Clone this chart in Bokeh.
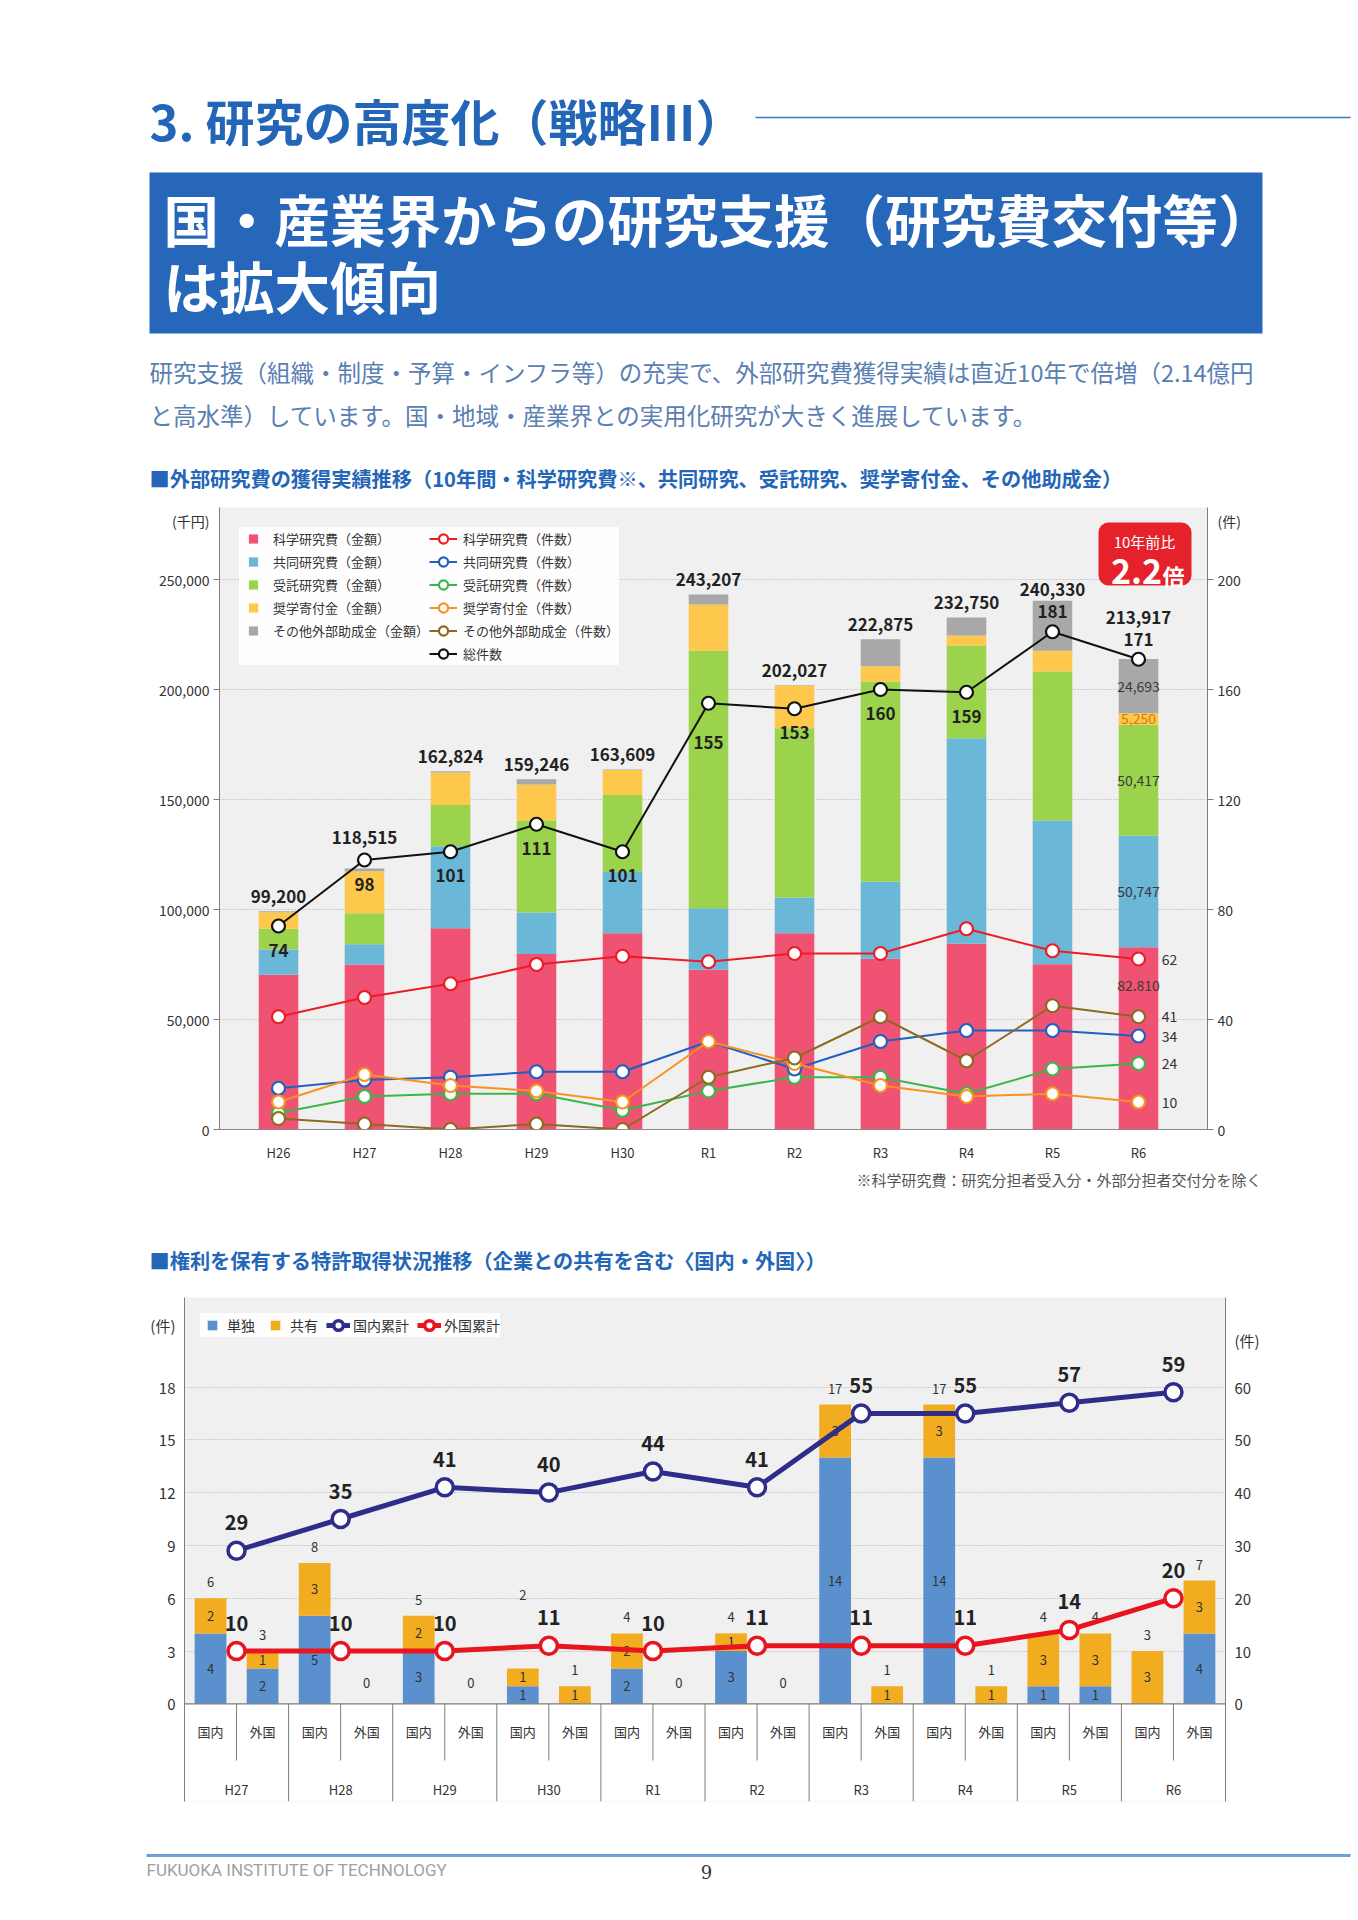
from bokeh.plotting import figure
from bokeh.models import (ColumnDataSource, Range1d, LinearAxis, FixedTicker,
                          NumeralTickFormatter, Label, BoxAnnotation, Span,
                          Legend, LegendItem)
from bokeh.core.properties import value
from bokeh.embed import file_html
from bokeh.resources import INLINE

JP = "Noto Sans CJK JP"
PAGE_W = 1358
HEAD_BLUE = "#2366b8"
TEXT_BLUE = "#5a80b2"
INK = "#333333"

# ---- 外部研究費 金額 (千円) ----
fiscal_years = ["H26", "H27", "H28", "H29", "H30", "R1", "R2", "R3", "R4", "R5", "R6"]
kaken_amount = [70300, 75000, 91500, 79800, 89200, 72600, 89200, 77600, 84400, 75100, 82810]
joint_amount = [11500, 9200, 37300, 18800, 27900, 28000, 16200, 35000, 93400, 65300, 50747]
contract_amount = [9500, 14100, 18700, 41800, 35000, 117000, 77000, 91000, 42200, 67800, 50417]
donation_amount = [7500, 19100, 14800, 16400, 11300, 21000, 19400, 7000, 4500, 9400, 5250]
other_amount = [400, 1215, 524, 2446, 209, 4607, 227, 12275, 8250, 22730, 24693]
total_amount = [99200, 118515, 162824, 159246, 163609, 243207, 202027, 222875, 232750, 240330, 213917]

# ---- 外部研究費 件数 ----
kaken_count = [41, 48, 53, 60, 63, 61, 64, 64, 73, 65, 62]
joint_count = [15, 18, 19, 21, 21, 32, 22, 32, 36, 36, 34]
contract_count = [6, 12, 13, 13, 7, 14, 19, 19, 13, 22, 24]
donation_count = [10, 20, 16, 14, 10, 32, 24, 16, 12, 13, 10]
other_count = [4, 2, 0, 2, 0, 19, 26, 41, 25, 45, 41]
total_count = [74, 98, 101, 111, 101, 155, 153, 160, 159, 181, 171]

# ---- 特許取得 (件) ----
patent_years = ["H27", "H28", "H29", "H30", "R1", "R2", "R3", "R4", "R5", "R6"]
domestic_sole = [4, 5, 3, 1, 2, 3, 14, 14, 1, 0]
domestic_joint = [2, 3, 2, 1, 2, 1, 3, 3, 3, 3]
foreign_sole = [2, 0, 0, 0, 0, 0, 0, 0, 1, 4]
foreign_joint = [1, 0, 0, 1, 0, 0, 1, 1, 3, 3]
domestic_cumulative = [29, 35, 41, 40, 44, 41, 55, 55, 57, 59]
foreign_cumulative = [10, 10, 10, 11, 10, 11, 11, 11, 14, 20]


def text_page(height, top):
    """A blank strip whose data coordinates are page pixels (y grows downward)."""
    f = figure(width=PAGE_W, height=height, output_backend="svg", toolbar_location=None,
               x_range=Range1d(0, PAGE_W), y_range=Range1d(top + height, top),
               min_border=0, x_axis_location=None, y_axis_location=None,
               outline_line_color=None, background_fill_color="white")
    f.grid.visible = False
    return f


def write(fig, xs, ys, texts, size, color, bold=False, align="center", font=JP, **kw):
    fig.text(x=xs, y=ys, text=texts, text_font=value(font), text_font_size=f"{size}px",
             text_color=color, text_font_style="bold" if bold else "normal",
             text_align=align, text_baseline="middle", **kw)


def style_axis(ax, size="14px", tick_out=6, standoff=4):
    ax.axis_line_color = "#7d7d7d"
    ax.major_tick_line_color = "#7d7d7d"
    ax.major_tick_out = tick_out
    ax.major_tick_in = 0
    ax.minor_tick_line_color = None
    ax.major_label_text_font = JP
    ax.major_label_text_font_size = size
    ax.major_label_text_color = INK
    ax.major_label_standoff = standoff


def unit_ticks(ax, ticks, unit_at, unit_text, fmt=None, tick_out=6):
    """Numbered ticks with short tick marks, plus an unmarked unit caption near the top."""
    ax.ticker = FixedTicker(ticks=ticks + [unit_at], minor_ticks=ticks)
    overrides = {unit_at: unit_text}
    if fmt:
        overrides.update({t: fmt(t) for t in ticks})
    ax.major_label_overrides = overrides
    ax.major_tick_out = 0
    ax.minor_tick_out = tick_out
    ax.minor_tick_in = 0
    ax.minor_tick_line_color = "#7d7d7d" if tick_out else None


def square_swatch(fig, color):
    """Hidden square marker used only as a legend swatch."""
    r = fig.scatter(x=[0], y=[0], marker="square", size=12, fill_color=color, line_color=None)
    r.visible = False
    return r


# ================= header =================
head = text_page(500, 0)
write(head, [149], [119], ["3. 研究の高度化（戦略Ⅲ）"], 49, HEAD_BLUE, bold=True, align="left")
head.segment(x0=[755], y0=[117], x1=[1350], y1=[117], line_color="#3d78c2", line_width=1.5)
head.quad(left=[149], right=[1262], top=[172], bottom=[333], fill_color="#2767b9", line_color=None)
write(head, [163], [217], ["国・産業界からの研究支援（研究費交付等）"], 55.5, "white", bold=True, align="left")
write(head, [163], [284], ["は拡大傾向"], 55.5, "white", bold=True, align="left")
write(head, [149], [371], ["研究支援（組織・制度・予算・インフラ等）の充実で、外部研究費獲得実績は直近10年で倍増（2.14億円"],
      23.5, TEXT_BLUE, align="left")
write(head, [149], [414], ["と高水準）しています。国・地域・産業界との実用化研究が大きく進展しています。"],
      23.5, TEXT_BLUE, align="left")
write(head, [149], [478], ["■外部研究費の獲得実績推移（10年間・科学研究費※、共同研究、受託研究、奨学寄付金、その他助成金）"],
      20.2, HEAD_BLUE, bold=True, align="left")

# ================= chart 1: funding =================
C1_LEFT, C1_RIGHT, C1_TOP, C1_BOTTOM = 219, 1207, 507, 1129   # page pixels of the plot frame
C1_X0, C1_PITCH = 278, 86                                       # first category centre, spacing
AMT_PER_PX = 50000 / 110
Y1_MAX = (C1_BOTTOM - C1_TOP) * AMT_PER_PX
CNT_SCALE = 1250                                                # 千円 per 件 on the twin axis


def c1x(px):
    return (px - C1_X0) / C1_PITCH


def c1y(py):
    return (C1_BOTTOM - py) * AMT_PER_PX


p1 = figure(width=PAGE_W, height=665, output_backend="svg", toolbar_location=None,
            x_range=Range1d(c1x(C1_LEFT), c1x(C1_RIGHT)), y_range=Range1d(0, Y1_MAX),
            min_border_left=C1_LEFT, min_border_right=PAGE_W - C1_RIGHT,
            min_border_top=C1_TOP - 500, min_border_bottom=1165 - C1_BOTTOM,
            background_fill_color="#f0f0f0", border_fill_color="white", outline_line_color=None)
p1.extra_y_ranges = {"cnt": Range1d(0, Y1_MAX / CNT_SCALE)}

amount_ticks = [0, 50000, 100000, 150000, 200000, 250000]
count_ticks = [0, 40, 80, 120, 160, 200]
unit_y = 276800   # caption row just under the frame top

yl = p1.yaxis[0]
style_axis(yl, "14px", 0, 4)
unit_ticks(yl, amount_ticks, unit_y, "(千円)", fmt=lambda t: f"{t:,}")
yr = LinearAxis(y_range_name="cnt")
style_axis(yr, "14px", 0, 4)
unit_ticks(yr, count_ticks, unit_y / CNT_SCALE, "(件)", fmt=lambda t: str(t))
p1.add_layout(yr, "right")

xa = p1.xaxis[0]
xa.ticker = FixedTicker(ticks=list(range(len(fiscal_years))))
xa.major_label_overrides = {i: y for i, y in enumerate(fiscal_years)}
style_axis(xa, "13px", 0, 13)
xa.axis_line_color = "#8a8a8a"

p1.xgrid.visible = False
p1.ygrid.ticker = FixedTicker(ticks=amount_ticks[1:])
p1.ygrid.grid_line_color = "#a8a8a8"
p1.ygrid.grid_line_dash = "1 2"
p1.ygrid.grid_line_width = 1

bar_keys = ["kaken", "joint", "contract", "donation", "other"]
bar_colors = ["#f05273", "#6bb7d7", "#9bd44c", "#fdc84c", "#a8a8a8"]
src1 = ColumnDataSource(dict(x=list(range(len(fiscal_years))), kaken=kaken_amount, joint=joint_amount,
                             contract=contract_amount, donation=donation_amount, other=other_amount))
p1.vbar_stack(bar_keys, x="x", width=0.46, fill_color=bar_colors, line_color=None, source=src1)

xs1 = list(range(len(fiscal_years)))
line_specs = [
    ("受託研究費（件数）", contract_count, "#3cb64a"),
    ("共同研究費（件数）", joint_count, "#1f60c2"),
    ("奨学寄付金（件数）", donation_count, "#f7931e"),
    ("その他外部助成金（件数）", other_count, "#8c6b1f"),
    ("科学研究費（件数）", kaken_count, "#ec1c24"),
    ("総件数", total_count, "#111111"),
]
line_items = {}
for name, vals, col in line_specs:
    lr = p1.line(xs1, vals, y_range_name="cnt", line_color=col, line_width=2)
    sr = p1.scatter(xs1, vals, y_range_name="cnt", marker="circle", size=13,
                    fill_color="white", line_color=col, line_width=2.2)
    line_items[name] = [lr, sr]

# value labels
count_label_dy = [24, 24, 24, 24, 24, 39, 24, 24, 24, -20, -20]   # px below the total marker
amt_y, cnt_y = [], []
for i in xs1:
    marker_amt = total_count[i] * CNT_SCALE
    if count_label_dy[i] < 0:
        amt_y.append(marker_amt + 42 * AMT_PER_PX)
    elif marker_amt > total_amount[i]:
        amt_y.append(marker_amt + 23 * AMT_PER_PX)
    else:
        amt_y.append(total_amount[i] + 15 * AMT_PER_PX)
    cnt_y.append(total_count[i] - count_label_dy[i] * AMT_PER_PX / CNT_SCALE)
write(p1, xs1, amt_y, [f"{v:,}" for v in total_amount], 17, "#222222", bold=True)
write(p1, xs1, cnt_y, [str(v) for v in total_count], 17, "#222222", bold=True, y_range_name="cnt")

last = len(fiscal_years) - 1
base = [0]
for seg in (kaken_amount, joint_amount, contract_amount, donation_amount):
    base.append(base[-1] + seg[last])
seg_vals = [kaken_amount[last], joint_amount[last], contract_amount[last],
            donation_amount[last], other_amount[last]]
seg_y = [kaken_amount[last] - 38 * AMT_PER_PX] + [base[k] + seg_vals[k] / 2 for k in range(1, 5)]
seg_txt = [f"{seg_vals[0]:,}".replace(",", ".")] + [f"{v:,}" for v in seg_vals[1:]]
write(p1, [last] * 5, seg_y, seg_txt, 14, ["#3a3a3a", "#3a3a3a", "#3a3a3a", "#d87a12", "#3a3a3a"])

side_vals = [kaken_count[last], other_count[last], joint_count[last], contract_count[last], donation_count[last]]
write(p1, [c1x(1169)] * 5, side_vals, [str(v) for v in side_vals], 14, INK, y_range_name="cnt")

# ratio callout
p1.add_layout(BoxAnnotation(left=c1x(1098), right=c1x(1191), top=c1y(522), bottom=c1y(585),
                            fill_color="#e5222b", fill_alpha=1, line_color=None, border_radius=10))
p1.add_layout(Label(x=c1x(1144), y=c1y(541), text="10年前比", text_font=JP, text_font_size="15px",
                    text_color="white", text_align="center", text_baseline="middle", level="overlay"))
p1.add_layout(Label(x=c1x(1136), y=c1y(571), text="2.2", text_font=JP, text_font_size="34px",
                    text_font_style="bold", text_color="white", text_align="center",
                    text_baseline="middle", level="overlay"))
p1.add_layout(Label(x=c1x(1173), y=c1y(574), text="倍", text_font=JP, text_font_size="22px",
                    text_font_style="bold", text_color="white", text_align="center",
                    text_baseline="middle", level="overlay"))

# legend
bar_names = ["科学研究費（金額）", "共同研究費（金額）", "受託研究費（金額）", "奨学寄付金（金額）", "その他外部助成金（金額）"]
legend_items = [LegendItem(label=name, renderers=[square_swatch(p1, col)])
                for name, col in zip(bar_names, bar_colors)]
blank = p1.scatter(x=[], y=[], marker="square", size=1, fill_alpha=0, line_alpha=0)
legend_items.append(LegendItem(label=" ", renderers=[blank]))
for name in ["科学研究費（件数）", "共同研究費（件数）", "受託研究費（件数）", "奨学寄付金（件数）",
             "その他外部助成金（件数）", "総件数"]:
    legend_items.append(LegendItem(label=name, renderers=line_items[name]))
leg1 = Legend(items=legend_items, ncols=2, location="top_left", margin=20, padding=6, spacing=0,
              label_height=23, glyph_height=23, glyph_width=28, label_standoff=6,
              label_text_font=JP, label_text_font_size="13px", label_text_color=INK,
              inactive_fill_alpha=0,
              background_fill_color="white", background_fill_alpha=0.9, border_line_color=None)
p1.add_layout(leg1)

# ================= middle strip =================
mid = text_page(132, 1165)
write(mid, [1261], [1179], ["※科学研究費：研究分担者受入分・外部分担者交付分を除く"], 15, "#555555", align="right")
write(mid, [149], [1260], ["■権利を保有する特許取得状況推移（企業との共有を含む〈国内・外国〉）"], 20.2, HEAD_BLUE,
      bold=True, align="left")

# ================= chart 2: patents =================
C2_LEFT, C2_RIGHT, C2_TOP, C2_BOTTOM = 184, 1225, 1297, 1801
C2_ZERO, C2_PX_PER = 1703.3, 17.6
C2_PITCH = (C2_RIGHT - C2_LEFT) / 20
RIGHT_SCALE = 10 / 3


def c2x(px):
    return (px - C2_LEFT) / C2_PITCH - 0.5


def c2y(py):
    return (C2_ZERO - py) / C2_PX_PER


p2 = figure(width=PAGE_W, height=533, output_backend="svg", toolbar_location=None,
            x_range=Range1d(-0.5, 19.5), y_range=Range1d(c2y(C2_BOTTOM), c2y(C2_TOP)),
            min_border_left=C2_LEFT, min_border_right=PAGE_W - C2_RIGHT,
            min_border_top=0, min_border_bottom=1830 - C2_BOTTOM, x_axis_location=None,
            background_fill_color="#f0f0f0", border_fill_color="white", outline_line_color=None)
p2.extra_y_ranges = {"cum": Range1d(c2y(C2_BOTTOM) * RIGHT_SCALE, c2y(C2_TOP) * RIGHT_SCALE)}
p2.add_layout(BoxAnnotation(top=0, fill_color="white", fill_alpha=1, line_color=None, level="underlay"))

y2l = p2.yaxis[0]
style_axis(y2l, "15px", 0, 9)
unit_ticks(y2l, [0, 3, 6, 9, 12, 15, 18], 21.5, "(件)", fmt=lambda t: str(t), tick_out=0)
y2r = LinearAxis(y_range_name="cum")
style_axis(y2r, "15px", 0, 9)
unit_ticks(y2r, [0, 10, 20, 30, 40, 50, 60], 68.8, "(件)", fmt=lambda t: str(t), tick_out=0)
p2.add_layout(y2r, "right")
p2.xgrid.visible = False
p2.ygrid.ticker = FixedTicker(ticks=[3, 6, 9, 12, 15, 18])
p2.ygrid.grid_line_color = "#a8a8a8"
p2.ygrid.grid_line_dash = "1 2"

bar_x, sole, joint, region = [], [], [], []
for g in range(len(patent_years)):
    bar_x += [2 * g, 2 * g + 1]
    sole += [domestic_sole[g], foreign_sole[g]]
    joint += [domestic_joint[g], foreign_joint[g]]
    region += ["国内", "外国"]
src2 = ColumnDataSource(dict(x=bar_x, sole=sole, joint=joint))
SOLE_C, JOINT_C = "#5b90cf", "#f2ac20"
p2.vbar_stack(["sole", "joint"], x="x", width=0.61, fill_color=[SOLE_C, JOINT_C],
              line_color=None, source=src2)

# category axis drawn under the baseline
p2.add_layout(Span(location=0, dimension="width", line_color="#7d7d7d", line_width=1.2))
long_sep = [2 * g + 1.5 for g in range(len(patent_years) - 1)]
short_sep = [2 * g + 0.5 for g in range(len(patent_years))]
p2.segment(x0=long_sep, y0=[0] * len(long_sep), x1=long_sep, y1=[c2y(C2_BOTTOM)] * len(long_sep),
           line_color="#7d7d7d", line_width=1)
p2.segment(x0=short_sep, y0=[0] * len(short_sep), x1=short_sep, y1=[c2y(1760)] * len(short_sep),
           line_color="#7d7d7d", line_width=1)
write(p2, bar_x, [c2y(1731)] * len(bar_x), region, 13, INK)
group_x = [2 * g + 0.5 for g in range(len(patent_years))]
write(p2, group_x, [c2y(1789)] * len(group_x), patent_years, 13, INK)

# numbers inside and above the bars
in_x, in_y, in_t = [], [], []
for x, s, j in zip(bar_x, sole, joint):
    if s:
        in_x.append(x); in_y.append(s / 2); in_t.append(str(s))
    if j:
        in_x.append(x); in_y.append(s + j / 2); in_t.append(str(j))
write(p2, in_x, in_y, in_t, 13, INK)
lift_px = {6: 74}
top_y = []
for x, s, j in zip(bar_x, sole, joint):
    off = lift_px.get(x, 16 if s + j else 21)
    top_y.append(s + j + off / C2_PX_PER)
write(p2, bar_x, top_y, [str(s + j) for s, j in zip(sole, joint)], 13, INK)

# cumulative lines
dom_l = p2.line(group_x, domestic_cumulative, y_range_name="cum", line_color="#2e2d89", line_width=5)
dom_s = p2.scatter(group_x, domestic_cumulative, y_range_name="cum", marker="circle", size=17,
                   fill_color="white", line_color="#2e2d89", line_width=3.5)
for_l = p2.line(group_x, foreign_cumulative, y_range_name="cum", line_color="#e8141e", line_width=5)
for_s = p2.scatter(group_x, foreign_cumulative, y_range_name="cum", marker="circle", size=17,
                   fill_color="white", line_color="#e8141e", line_width=3.5)
cum_off = 28 * RIGHT_SCALE / C2_PX_PER
write(p2, group_x, [v + cum_off for v in domestic_cumulative], [str(v) for v in domestic_cumulative],
      20, "#222222", bold=True, y_range_name="cum")
write(p2, group_x, [v + cum_off for v in foreign_cumulative], [str(v) for v in foreign_cumulative],
      20, "#222222", bold=True, y_range_name="cum")

leg2 = Legend(items=[LegendItem(label="単独", renderers=[square_swatch(p2, SOLE_C)]),
                     LegendItem(label="共有", renderers=[square_swatch(p2, JOINT_C)]),
                     LegendItem(label="国内累計", renderers=[dom_l, dom_s]),
                     LegendItem(label="外国累計", renderers=[for_l, for_s])],
              orientation="horizontal", location="top_left", margin=16, padding=3, spacing=8,
              glyph_width=24, glyph_height=24, label_height=24, label_standoff=3,
              label_text_font=JP, label_text_font_size="14px", label_text_color=INK,
              inactive_fill_alpha=0,
              background_fill_color="white", background_fill_alpha=0.9, border_line_color=None)
p2.add_layout(leg2)

# ================= footer =================
foot = text_page(90, 1830)
foot.segment(x0=[146], y0=[1855], x1=[1350], y1=[1855], line_color="#6f9fd6", line_width=3)
write(foot, [146], [1869], ["FUKUOKA INSTITUTE OF TECHNOLOGY"], 17, "#a0a0a0", align="left", font="Roboto")
write(foot, [706], [1871], ["9"], 18, INK, font="DejaVu Serif")

# each strip is its own root so that their plot frames stay independent
p = [head, p1, mid, p2, foot]
with open("out.html", "w") as fh:
    fh.write(file_html(p, INLINE, title="研究の高度化"))
